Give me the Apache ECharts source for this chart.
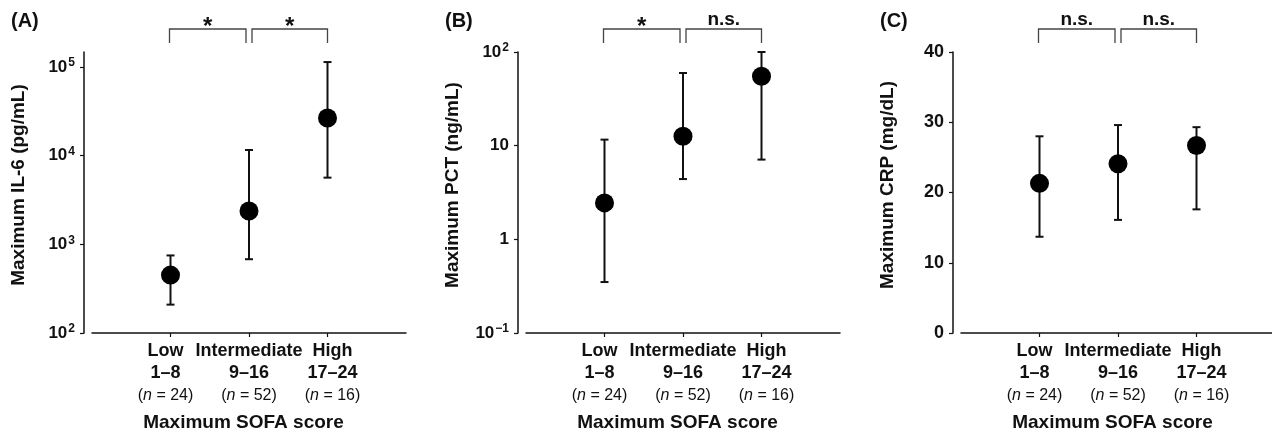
<!DOCTYPE html>
<html><head><meta charset="utf-8">
<script src="https://cdn.jsdelivr.net/npm/echarts@6/dist/echarts.min.js"></script>
<style>html,body{margin:0;padding:0;background:#fff}#c{width:1272px;height:438px}</style>
</head><body><div id="c"></div>
<script>
// ---------- data ----------
const groups = ['Low', 'Intermediate', 'High'];
const scoreRanges = ['1–8', '9–16', '17–24'];
const groupN = [24, 52, 16];
const panelLetters = ['(A)', '(B)', '(C)'];
const yTitles = ['Maximum IL-6 (pg/mL)', 'Maximum PCT (ng/mL)', 'Maximum CRP (mg/dL)'];
const xTitle = 'Maximum SOFA score';

const il6Median = [450, 2380, 26600];
const il6Lower = [209, 680, 5660];
const il6Upper = [750, 11600, 114000];

const pctMedian = [2.45, 12.6, 55];
const pctLower = [0.35, 4.4, 7.1];
const pctUpper = [11.6, 59.7, 100];

const crpMedian = [21.3, 24.1, 26.7];
const crpLower = [13.7, 16.1, 17.6];
const crpUpper = [28.0, 29.6, 29.3];

const il6Ticks = [100, 1000, 10000, 100000];
const pctTicks = [0.1, 1, 10, 100];
const crpTicks = [0, 10, 20, 30, 40];
const il6Range = [100, 148000];
const pctRange = [0.1, 100];
const crpRange = [0, 40];

const sigLabels = [['*', '*'], ['*', 'n.s.'], ['n.s.', 'n.s.']];

// ---------- build ----------
const FONT = '"Liberation Sans", Arial, sans-serif';
const INK = '#111';
const gridLefts = [92, 526, 961];
const gridWidth = 314;
const gridTop = 52;
const gridHeight = 281;
const labelPad = [[0, 10, 0, 0], [0, 0, 0, 0], [0, 0, 0, 10]]; // nudges Low left, High right

const panels = [
  { med: il6Median, lo: il6Lower, hi: il6Upper, ticks: il6Ticks, range: il6Range, log: true },
  { med: pctMedian, lo: pctLower, hi: pctUpper, ticks: pctTicks, range: pctRange, log: true },
  { med: crpMedian, lo: crpLower, hi: crpUpper, ticks: crpTicks, range: crpRange, log: false }
];

function logLabel(v) {
  const e = Math.round(Math.log10(v));
  if (e === 0) return '{b|1}';
  if (e === 1) return '{b|10}';
  return '{b|10}{s|' + (e < 0 ? '−' + (-e) : e) + '}';
}

const xRich = {};
[0, 1, 2].forEach(g => {
  const pad = labelPad[g];
  xRich['a' + g] = { fontSize: 18, fontWeight: 'bold', color: INK, fontFamily: FONT, lineHeight: 21, padding: pad };
  xRich['b' + g] = { fontSize: 18, fontWeight: 'bold', color: INK, fontFamily: FONT, lineHeight: 22, padding: pad };
  xRich['c' + g + 'l'] = { fontSize: 16, color: '#111', fontFamily: FONT, lineHeight: 23, padding: [0, 0, 0, pad[3]] };
  xRich['c' + g + 'i'] = { fontSize: 16, fontStyle: 'italic', color: '#111', fontFamily: FONT, lineHeight: 23 };
  xRich['c' + g + 'r'] = { fontSize: 16, color: '#111', fontFamily: FONT, lineHeight: 23, padding: [0, pad[1], 0, 0] };
});

const axisData = [''].concat(groups).concat(['']);
const inner = (i) => i >= 1 && i <= groups.length;

const grid = [], xAxis = [], yAxis = [], series = [], title = [];
panels.forEach((p, k) => {
  grid.push({ left: gridLefts[k], top: gridTop, width: gridWidth, height: gridHeight,
    containLabel: false, outerBoundsMode: 'none' });
  title.push({ text: panelLetters[k], left: gridLefts[k] - 86, top: 6,
    textStyle: { fontSize: 20, fontWeight: 'bold', color: INK, fontFamily: FONT } });
  xAxis.push({
    gridIndex: k, type: 'category', data: axisData, boundaryGap: false,
    axisLine: { lineStyle: { color: INK, width: 1.5 } },
    axisTick: { show: true, interval: 0, customValues: [1, 2, 3], length: 4, lineStyle: { color: INK, width: 1.2 } },
    axisLabel: {
      interval: 0, hideOverlap: false, margin: 8,
      formatter: (val, i) => {
        if (!inner(i)) return '';
        const g = i - 1;
        return '{a' + g + '|' + groups[g] + '}\n{b' + g + '|' + scoreRanges[g] + '}\n{c' + g + 'l|(}{c' + g + 'i|n}{c' + g + 'r| = ' + groupN[g] + ')}';
      },
      rich: xRich
    },
    name: xTitle, nameLocation: 'middle', nameGap: 80,
    nameTextStyle: { fontSize: 19, fontWeight: 'bold', color: INK, fontFamily: FONT, padding: [0, 11, 0, 0] },
    splitLine: { show: false }
  });
  const y = {
    gridIndex: k, min: p.range[0], max: p.range[1], offset: 8,
    axisLine: { show: true, lineStyle: { color: INK, width: 1.5 } },
    axisTick: { show: true, length: 4, customValues: p.ticks, lineStyle: { color: INK, width: 1.2 } },
    axisLabel: { margin: 9, customValues: p.ticks, fontSize: 18, fontWeight: 'bold', color: INK, fontFamily: FONT },
    splitLine: { show: false },
    name: yTitles[k], nameLocation: 'middle', nameGap: 56,
    nameTextStyle: { fontSize: 19, fontWeight: 'bold', color: INK, fontFamily: FONT, padding: [0, 0, 0, 15] }
  };
  if (p.log) {
    y.type = 'log'; y.logBase = 10;
    y.axisLabel.formatter = logLabel;
    y.axisLabel.rich = {
      b: { fontSize: 17, fontWeight: 'bold', color: INK, fontFamily: FONT, lineHeight: 20 },
      s: { fontSize: 12, fontWeight: 'bold', color: INK, fontFamily: FONT, lineHeight: 20, verticalAlign: 'top', padding: [0, 0, 8, 1] }
    };
  } else {
    y.type = 'value'; y.interval = 10;
  }
  yAxis.push(y);

  const yRef = p.range[1];
  // error bars
  series.push({
    type: 'custom', xAxisIndex: k, yAxisIndex: k,
    data: p.med.map((m, i) => [i + 1, p.lo[i], p.hi[i]]),
    renderItem: (params, api) => {
      const x = api.value(0);
      const a = api.coord([x, api.value(1)]);
      const b = api.coord([x, api.value(2)]);
      const hw = 4, st = { stroke: INK, lineWidth: 2 };
      return { type: 'group', children: [
        { type: 'line', shape: { x1: a[0], y1: a[1], x2: b[0], y2: b[1] }, style: st },
        { type: 'line', shape: { x1: a[0] - hw, y1: a[1], x2: a[0] + hw, y2: a[1] }, style: st },
        { type: 'line', shape: { x1: b[0] - hw, y1: b[1], x2: b[0] + hw, y2: b[1] }, style: st }
      ] };
    },
    z: 2
  });
  // medians
  series.push({
    type: 'scatter', xAxisIndex: k, yAxisIndex: k, symbol: 'circle', symbolSize: 19,
    itemStyle: { color: '#000', opacity: 1 },
    data: p.med.map((m, i) => [i + 1, m]), z: 3
  });
  // significance brackets
  series.push({
    type: 'custom', xAxisIndex: k, yAxisIndex: k, clip: false,
    data: [[1, 2], [2, 3]],
    renderItem: (params, api) => {
      const pa = api.coord([api.value(0), yRef]);
      const pb = api.coord([api.value(1), yRef]);
      const top = params.coordSys.y;
      const yTop = top - 23, yBot = top - 9;
      const first = params.dataIndex === 0;
      const left = first ? pa[0] - 1 : pa[0] + 3;
      const right = first ? pb[0] - 3 : pb[0];
      const lab = sigLabels[k][params.dataIndex];
      const star = lab === '*';
      return { type: 'group', children: [
        { type: 'polyline', shape: { points: [[left, yBot], [left, yTop], [right, yTop], [right, yBot]] },
          style: { stroke: '#444', lineWidth: 1.3, fill: null } },
        { type: 'text', style: { text: lab, x: (left + right) / 2, y: star ? top - 25 : top - 32,
          align: 'center', verticalAlign: 'middle',
          fontSize: star ? 24 : 19, fontWeight: 'bold', fill: INK, fontFamily: FONT } }
      ] };
    },
    z: 4
  });
});

const chart = echarts.init(document.getElementById('c'), null, { renderer: 'canvas' });
chart.setOption({ animation: false, backgroundColor: '#fff', title, grid, xAxis, yAxis, series });
</script></body></html>
